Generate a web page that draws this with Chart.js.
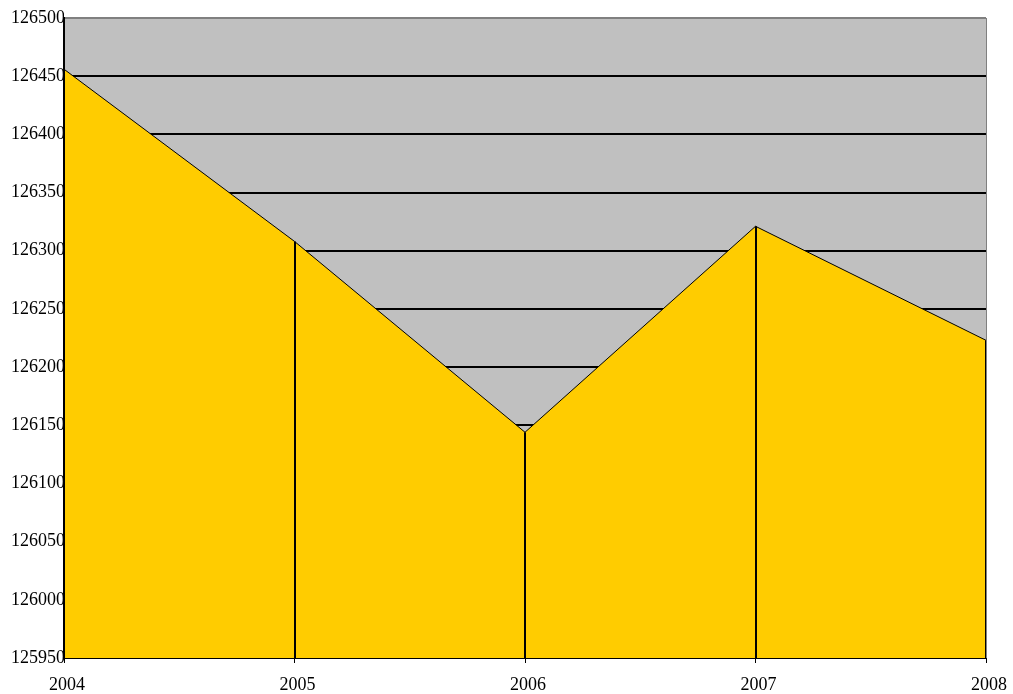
<!DOCTYPE html>
<html>
<head>
<meta charset="utf-8">
<script src="https://cdn.jsdelivr.net/npm/chart.js@4/dist/chart.umd.min.js"></script>
<style>
  html, body { margin: 0; padding: 0; background: #fff; }
  #wrap { width: 1013px; height: 694px; }
</style>
</head>
<body>
<div id="wrap"><canvas id="c"></canvas></div>
<script>
const years = ['2004', '2005', '2006', '2007', '2008'];
const values = [126456, 126308, 126144, 126321, 126223];
const yMin = 125950;
const yMax = 126500;
const yStep = 50;

// gray plot background + thin gray right frame
const plotFrame = {
  id: 'plotFrame',
  beforeDraw(chart) {
    const { ctx, chartArea: a } = chart;
    ctx.save();
    ctx.fillStyle = '#C0C0C0';
    ctx.fillRect(a.left, a.top, a.right - a.left, a.bottom - a.top);
    ctx.restore();
  },
  afterDraw(chart) {
    const { ctx, chartArea: a } = chart;
    ctx.save();
    ctx.strokeStyle = '#808080';
    ctx.lineWidth = 1;
    ctx.beginPath();
    ctx.moveTo(a.right + 0.5, a.top);
    ctx.lineTo(a.right + 0.5, a.bottom);
    ctx.stroke();
    ctx.restore();
  }
};

// vertical drop lines from each point down to the axis
const dropLines = {
  id: 'dropLines',
  afterDatasetsDraw(chart) {
    const { ctx, chartArea: a } = chart;
    const pts = chart.getDatasetMeta(0).data;
    ctx.save();
    ctx.strokeStyle = '#000';
    ctx.lineWidth = 2;
    pts.forEach(p => {
      const x = Math.round(p.x);
      ctx.beginPath();
      ctx.moveTo(x, p.y);
      ctx.lineTo(x, a.bottom);
      ctx.stroke();
    });
    ctx.restore();
  }
};

const font = { family: '"Liberation Serif", "Times New Roman", serif', size: 18 };

new Chart(document.getElementById('c'), {
  type: 'line',
  data: {
    labels: years,
    datasets: [{
      data: values,
      borderColor: '#000',
      borderWidth: 1,
      backgroundColor: '#FFCC00',
      fill: 'start',
      pointRadius: 0,
      tension: 0
    }]
  },
  options: {
    responsive: true,
    maintainAspectRatio: false,
    animation: false,
    layout: { padding: { top: 18, right: 27, left: 0, bottom: 0 } },
    plugins: {
      legend: { display: false },
      tooltip: { enabled: false }
    },
    scales: {
      x: {
        offset: false,
        border: { color: '#000', width: 2 },
        grid: { drawOnChartArea: false, drawTicks: true, tickLength: 5, color: '#000', lineWidth: 1 },
        ticks: { color: '#000', font, padding: 11, maxRotation: 0, labelOffset: 3 },
        afterFit(s) {
          s.height = 36;
          s.paddingLeft = 0;
          s.paddingRight = 0;
        }
      },
      y: {
        min: yMin,
        max: yMax,
        border: { color: '#000', width: 2 },
        grid: {
          drawTicks: false,
          lineWidth: 2,
          color: c => (c.tick && c.tick.value === yMax) ? '#808080' : '#000'
        },
        ticks: {
          stepSize: yStep,
          color: '#000',
          font,
          padding: -1,
          callback: v => String(v)
        },
        afterFit(s) { s.width = 64; }
      }
    }
  },
  plugins: [plotFrame, dropLines]
});
</script>
</body>
</html>
